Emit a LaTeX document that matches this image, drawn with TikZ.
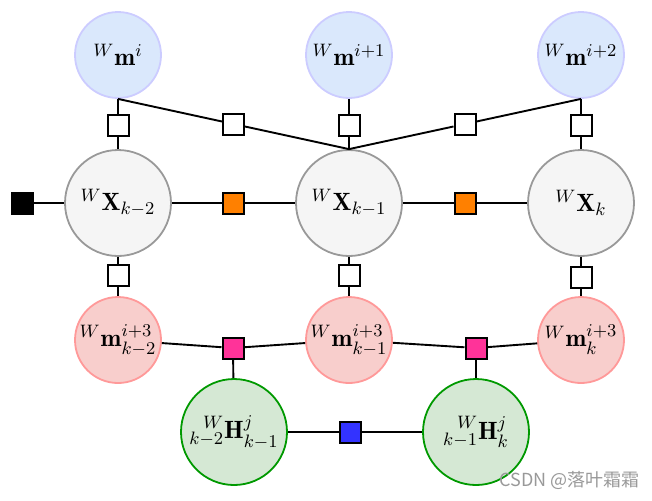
\documentclass[tikz,border=0pt]{standalone}
\usepackage{amsmath}
\usepackage{mathtools}
\usepackage{fontspec}
\newfontfamily\cjkfont{Noto Sans CJK SC}
\usetikzlibrary{calc}
\definecolor{lmfill}{HTML}{DAE8FC}
\definecolor{lmline}{HTML}{CCCCFF}
\definecolor{posefill}{HTML}{F5F5F5}
\definecolor{poseline}{HTML}{999999}
\definecolor{obsfill}{HTML}{F8CECC}
\definecolor{obsline}{HTML}{FF9999}
\definecolor{homfill}{HTML}{D5E8D4}
\definecolor{homline}{HTML}{009900}
\definecolor{orangeF}{HTML}{FF8000}
\definecolor{pinkF}{HTML}{FF3399}
\definecolor{blueF}{HTML}{3333FF}

\begin{document}
\begin{tikzpicture}[x=0.5pt,y=-0.5pt,
 lm/.style={circle, draw=lmline, fill=lmfill, line width=0.9pt, minimum size=43pt, inner sep=0pt, font=\fontsize{12.5}{15}\selectfont},
 pose/.style={circle, draw=poseline, fill=posefill, line width=0.9pt, minimum size=53pt, inner sep=0pt, font=\fontsize{12.5}{15}\selectfont},
 obs/.style={circle, draw=obsline, fill=obsfill, line width=0.9pt, minimum size=43pt, inner sep=0pt, font=\fontsize{12.5}{15}\selectfont},
 hom/.style={circle, draw=homline, fill=homfill, line width=0.9pt, minimum size=53pt, inner sep=0pt, font=\fontsize{12.5}{15}\selectfont},
 fac/.style={rectangle, draw=black, fill=white, line width=1pt, minimum size=10.5pt, inner sep=0pt},
 edge/.style={draw=black, line width=0.95pt}]
 \useasboundingbox (0,0) rectangle (652,500);

 % landmarks
 \node[lm] (mi) at (118,55) {${}^W\mathbf{m}^{i}$};
 \node[lm] (mi1) at (349,55) {${}^W\mathbf{m}^{i+1}$};
 \node[lm] (mi2) at (581,55) {${}^W\mathbf{m}^{i+2}$};

 % poses
 \node[pose] (xk2) at (118,203) {${}^W\mathbf{X}_{k-2}$};
 \node[pose] (xk1) at (349,203) {${}^W\mathbf{X}_{k-1}$};
 \node[pose] (xk) at (581,203) {${}^W\mathbf{X}_{k}$};

 % observed landmarks
 \node[obs] (mk2) at (118,340) {${}^W\mathbf{m}^{i+3}_{k-2}$};
 \node[obs] (mk1) at (349,340) {${}^W\mathbf{m}^{i+3}_{k-1}$};
 \node[obs] (mk) at (581,340) {${}^W\mathbf{m}^{i+3}_{k}$};

 % homographies
 \node[hom] (h1) at (234,432) {$\prescript{W}{k-2}{\mathbf{H}}^{j}_{k-1}$};
 \node[hom] (h2) at (476,432) {$\prescript{W}{k-1}{\mathbf{H}}^{j}_{k}$};

 % factors
 \node[fac] (fm0) at (118,125) {};
 \node[fac] (fm1) at (349,125) {};
 \node[fac] (fm2) at (581,125) {};
 \node[fac] (fd1) at ($(mi.south)!0.5!(xk1.north)$) {};
 \node[fac] (fd2) at ($(mi2.south)!0.5!(xk1.north)$) {};
 \node[fac, fill=black] (fp) at (22,203) {};
 \node[fac, fill=orangeF] (fo1) at (233,203) {};
 \node[fac, fill=orangeF] (fo2) at (465,203) {};
 \node[fac] (fl0) at (118,275) {};
 \node[fac] (fl1) at (349,275) {};
 \node[fac] (fl2) at (581,277) {};
 \node[fac, fill=pinkF] (fh1) at (233,348) {};
 \node[fac, fill=pinkF] (fh2) at (476,348) {};
 \node[fac, fill=blueF] (fb) at (350,432) {};

 \draw[edge] (mi) -- (fm0) -- (xk2);
 \draw[edge] (mi1) -- (fm1) -- (xk1);
 \draw[edge] (mi2) -- (fm2) -- (xk);
 \draw[edge] (mi.south) -- (fd1) -- (xk1.north);
 \draw[edge] (mi2.south) -- (fd2) -- (xk1.north);
 \draw[edge] (fp) -- (xk2) -- (fo1) -- (xk1) -- (fo2) -- (xk);
 \draw[edge] (xk2) -- (fl0) -- (mk2);
 \draw[edge] (xk1) -- (fl1) -- (mk1);
 \draw[edge] (xk) -- (fl2) -- (mk);
 \draw[edge] (mk2) -- (fh1) -- (mk1) -- (fh2) -- (mk);
 \draw[edge] (fh1) -- (h1);
 \draw[edge] (fh2) -- (h2);
 \draw[edge] (h1) -- (fb) -- (h2);

 \node[font=\cjkfont\fontsize{9}{11}\selectfont, text=black!40, anchor=south east, inner sep=0pt] (wm) at (640,490) {CSDN @落叶霜霜};
\end{tikzpicture}
\end{document}
